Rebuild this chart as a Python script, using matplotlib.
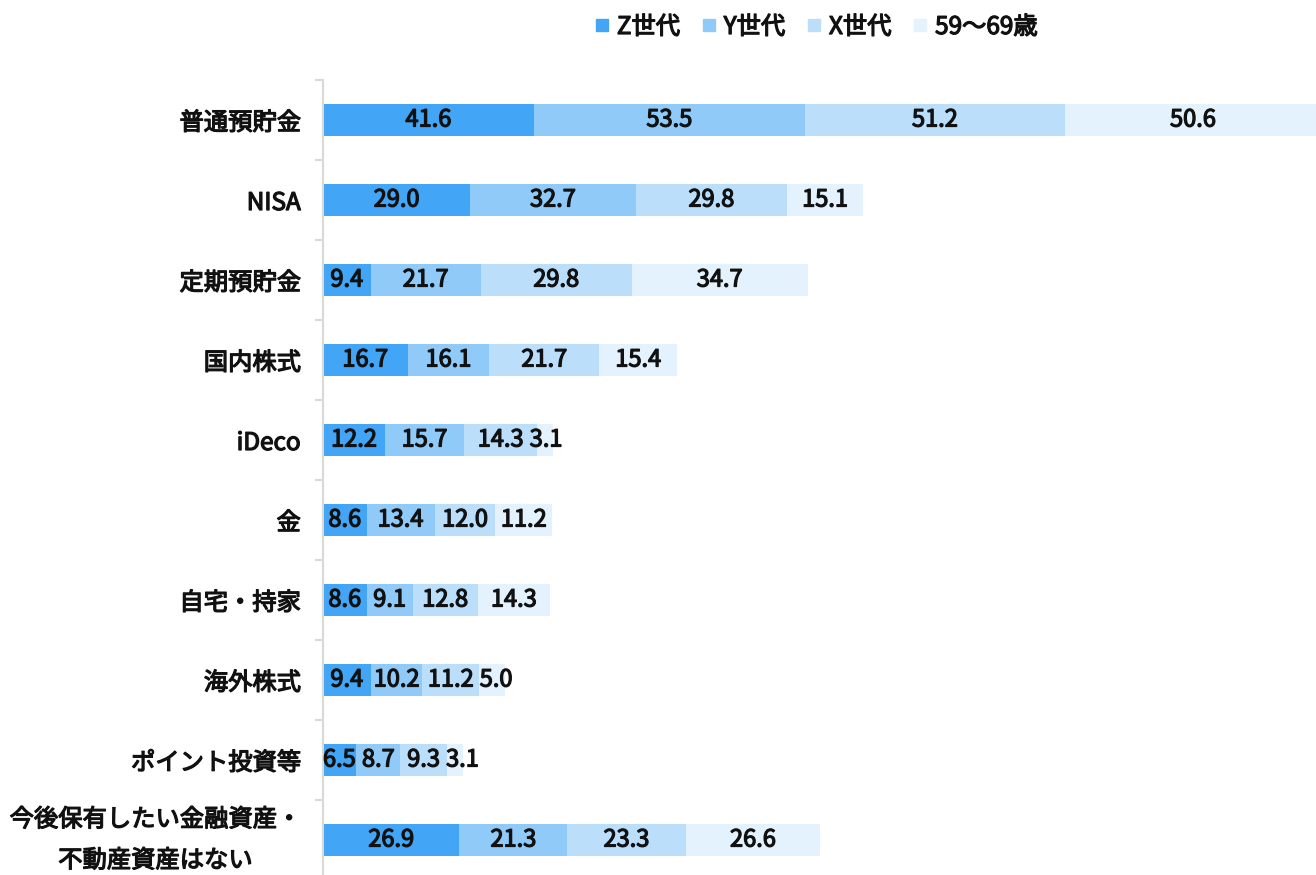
import matplotlib
matplotlib.use('Agg')
import matplotlib.pyplot as plt
import matplotlib.patheffects as pe
import numpy as np
from matplotlib.lines import Line2D

plt.rcParams['font.family'] = ['Noto Sans CJK JP', 'DejaVu Sans']

categories = ['普通預貯金', 'NISA', '定期預貯金', '国内株式', 'iDeco', '金',
              '自宅・持家', '海外株式', 'ポイント投資等',
              '今後保有したい金融資産・\n不動産資産はない']
series_names = ['Z世代', 'Y世代', 'X世代', '59～69歳']
gen_z = [41.6, 29.0, 9.4, 16.7, 12.2, 8.6, 8.6, 9.4, 6.5, 26.9]
gen_y = [53.5, 32.7, 21.7, 16.1, 15.7, 13.4, 9.1, 10.2, 8.7, 21.3]
gen_x = [51.2, 29.8, 29.8, 21.7, 14.3, 12.0, 12.8, 11.2, 9.3, 23.3]
age_59_69 = [50.6, 15.1, 34.7, 15.4, 3.1, 11.2, 14.3, 5.0, 3.1, 26.6]
colors = ['#42A5F5', '#90CAF9', '#BBDEFB', '#E3F2FD']

# regular weight with a thin outline to look like a medium weight
semi = [pe.withStroke(linewidth=0.9, foreground='#111111')]

fig = plt.figure(figsize=(13.16, 8.75), dpi=100)
ax = fig.add_axes([323 / 1316, -5 / 875, (1316 - 323) / 1316, 800 / 875])

y = np.arange(len(categories))
left = np.zeros(len(categories))
labels = [[] for _ in categories]
for name, vals, c in zip(series_names, [gen_z, gen_y, gen_x, age_59_69], colors):
    vals = np.array(vals)
    bars = ax.barh(y, vals, left=left, height=0.4, color=c, label=name)
    for i, (b, v) in enumerate(zip(bars, vals)):
        t = ax.text(b.get_x() + b.get_width() / 2, b.get_y() + b.get_height() / 2,
                    f'{v:.1f}', ha='center', va='center', fontsize=17,
                    color='#111111', path_effects=semi)
        labels[i].append(t)
    left += vals

ax.set_ylim(len(categories) - 0.5, -0.5)
ax.set_xlim(0, (1316 - 323) / 5.07)

ax.set_yticks(y)
ax.set_yticklabels(categories, fontsize=17.5, color='#111111',
                   linespacing=1.75, multialignment='center')
for t in ax.get_yticklabels():
    t.set_path_effects(semi)
ax.get_yticklabels()[-1].set_va('center')
ax.tick_params(axis='y', which='major', length=0, pad=16)
ax.set_yticks(np.arange(-0.5, len(categories), 1), minor=True)
ax.tick_params(axis='y', which='minor', length=6, color='#d9d9d9', width=1.5)
ax.set_xticks([])

for s in ['top', 'right', 'bottom']:
    ax.spines[s].set_visible(False)
ax.spines['left'].set_color('#d9d9d9')
ax.spines['left'].set_linewidth(1.5)

# nudge labels in narrow segments so they do not run into each other
fig.canvas.draw()
r = fig.canvas.get_renderer()
for row in labels:
    prev_right = None
    for t in row:
        bb = t.get_window_extent(r)
        if prev_right is not None and bb.x0 < prev_right + 6:
            shift = prev_right + 6 - bb.x0
            x_disp, y_disp = ax.transData.transform(t.get_position())
            t.set_x(ax.transData.inverted().transform((x_disp + shift, y_disp))[0])
            bb = t.get_window_extent(r)
        prev_right = bb.x1

handles = [Line2D([], [], marker='s', linestyle='none', markersize=9,
                  markerfacecolor=c, markeredgecolor=c) for c in colors]
leg = fig.legend(handles, series_names, loc='center', bbox_to_anchor=(817 / 1316, 1 - 27 / 875),
                 ncol=4, frameon=False, handlelength=0.5, handletextpad=0.35,
                 columnspacing=0.95, prop={'size': 17.5})
for t in leg.get_texts():
    t.set_color('#111111')
    t.set_path_effects(semi)

fig.savefig('out.png', dpi=100)
